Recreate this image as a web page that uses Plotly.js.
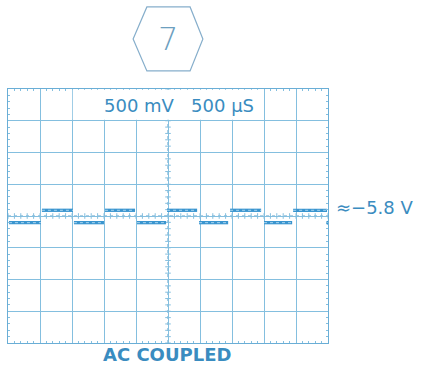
<!DOCTYPE html>
<html>
<head>
<meta charset="utf-8">
<script src="https://cdn.plot.ly/plotly-3.0.1.min.js"></script>
<style>html,body{margin:0;padding:0;background:#fff;}#chart{width:422px;height:369px;}</style>
</head>
<body>
<div id="chart"></div>
<script>
// Square-wave segments (time in µs, level in V), 500 µs/div, 500 mV/div
const segStart = [15, 530, 1030, 1515, 2015, 2485, 2985, 3470, 4000, 4455];
const segEnd   = [515, 1015, 1500, 1985, 2470, 2955, 3440, 3955, 4440, 4985];
const segLevel = [-0.105, 0.09, -0.105, 0.09, -0.105, 0.09, -0.105, 0.09, -0.105, 0.09];
const endDotTime = [5000];
const endDotLevel = [-0.105];
const scaleLabel = "500 mV\u00A0\u00A0\u00A0500 \u00B5S";
const levelLabel = "\u2248\u22125.8 V";
const couplingLabel = "AC COUPLED";
const badgeLabel = "7";

const traceColor = '#3a95cf';
const textColor = '#3a8cc0';
const gridColor = '#84bfdf';

const wx = [], wy = [];
for (let i = 0; i < segStart.length; i++) {
  wx.push(segStart[i], segEnd[i], null);
  wy.push(segLevel[i], segLevel[i], null);
}

// graticule minor ticks on centre lines
const mtx = [], mty = [], mvx = [], mvy = [];
for (let t = 0; t <= 5000; t += 100) { mtx.push(t); mty.push(0); }
for (let v = -2; v <= 2.0001; v += 0.1) { mvx.push(2500); mvy.push(v); }

const data = [
  {x: mtx, y: mty, mode: 'markers', type: 'scatter', hoverinfo: 'skip',
   marker: {symbol: 'line-ns', size: 4, line: {color: gridColor, width: 1}}},
  {x: mvx, y: mvy, mode: 'markers', type: 'scatter', hoverinfo: 'skip',
   marker: {symbol: 'line-ew', size: 4, line: {color: gridColor, width: 1}}},
  {x: wx, y: wy, mode: 'lines', type: 'scatter', connectgaps: false,
   line: {color: traceColor, width: 3.3}},
  {x: wx, y: wy, mode: 'lines', type: 'scatter', connectgaps: false,
   line: {color: '#a9d5ef', width: 1, dash: 'dot'}},
  {x: endDotTime, y: endDotLevel, mode: 'markers', type: 'scatter',
   marker: {color: traceColor, size: 4}}
];

const axisCommon = {
  showticklabels: false, showgrid: true, gridcolor: gridColor, gridwidth: 1,
  zeroline: false, showline: true, linecolor: '#6aaed6', linewidth: 1, mirror: 'ticks',
  ticks: 'inside', ticklen: 4, tickcolor: gridColor, fixedrange: true
};

const layout = {
  width: 422, height: 369,
  margin: {l: 8, r: 94, t: 89, b: 26},
  paper_bgcolor: '#ffffff', plot_bgcolor: '#ffffff',
  showlegend: false,
  xaxis: Object.assign({}, axisCommon, {range: [0, 5000], dtick: 500,
    minor: {dtick: 100, ticks: 'inside', ticklen: 2, tickcolor: gridColor, showgrid: false}}),
  yaxis: Object.assign({}, axisCommon, {range: [-2, 2], dtick: 0.5,
    minor: {dtick: 0.1, ticks: 'inside', ticklen: 2, tickcolor: gridColor, showgrid: false}}),
  shapes: [
    {type: 'line', xref: 'x', yref: 'y', x0: 0, x1: 5000, y0: 0, y1: 0, layer: 'below',
     line: {color: '#5a9ec8', width: 1, dash: '3px,3px'}},
    {type: 'line', xref: 'x', yref: 'y', x0: 2500, x1: 2500, y0: -2, y1: 2, layer: 'below',
     line: {color: '#5a9ec8', width: 1, dash: '3px,3px'}},
    {type: 'rect', xref: 'x', yref: 'y', x0: 1012, x1: 3988, y0: 1.515, y1: 1.99, layer: 'above',
     fillcolor: '#ffffff', line: {width: 0}},
    {type: 'path', xref: 'paper', yref: 'paper', layer: 'above',
     path: 'M 0.434 1.323 L 0.569 1.323 L 0.609 1.197 L 0.569 1.071 L 0.434 1.071 L 0.391 1.197 Z',
     line: {color: '#86aecb', width: 1.2}}
  ],
  annotations: [
    {text: scaleLabel, xref: 'paper', yref: 'paper', x: 0.533, y: 0.937, showarrow: false,
     xanchor: 'center', yanchor: 'middle',
     font: {family: 'DejaVu Sans', size: 18, color: textColor}},
    {text: levelLabel, xref: 'paper', yref: 'paper', x: 1.148, y: 0.533, showarrow: false,
     xanchor: 'center', yanchor: 'middle',
     font: {family: 'DejaVu Sans', size: 18, color: textColor}},
    {text: couplingLabel, xref: 'paper', yref: 'paper', x: 0.498, y: -0.045, showarrow: false,
     xanchor: 'center', yanchor: 'middle',
     font: {family: 'DejaVu Sans', size: 18, color: textColor, weight: 'bold'}},
    {text: badgeLabel, xref: 'paper', yref: 'paper', x: 0.5, y: 1.197, showarrow: false,
     xanchor: 'center', yanchor: 'middle',
     font: {family: 'DejaVu Sans', size: 32, color: '#6d9fbf', weight: 200}}
  ]
};

Plotly.newPlot('chart', data, layout, {displayModeBar: false, staticPlot: true});
</script>
</body>
</html>
